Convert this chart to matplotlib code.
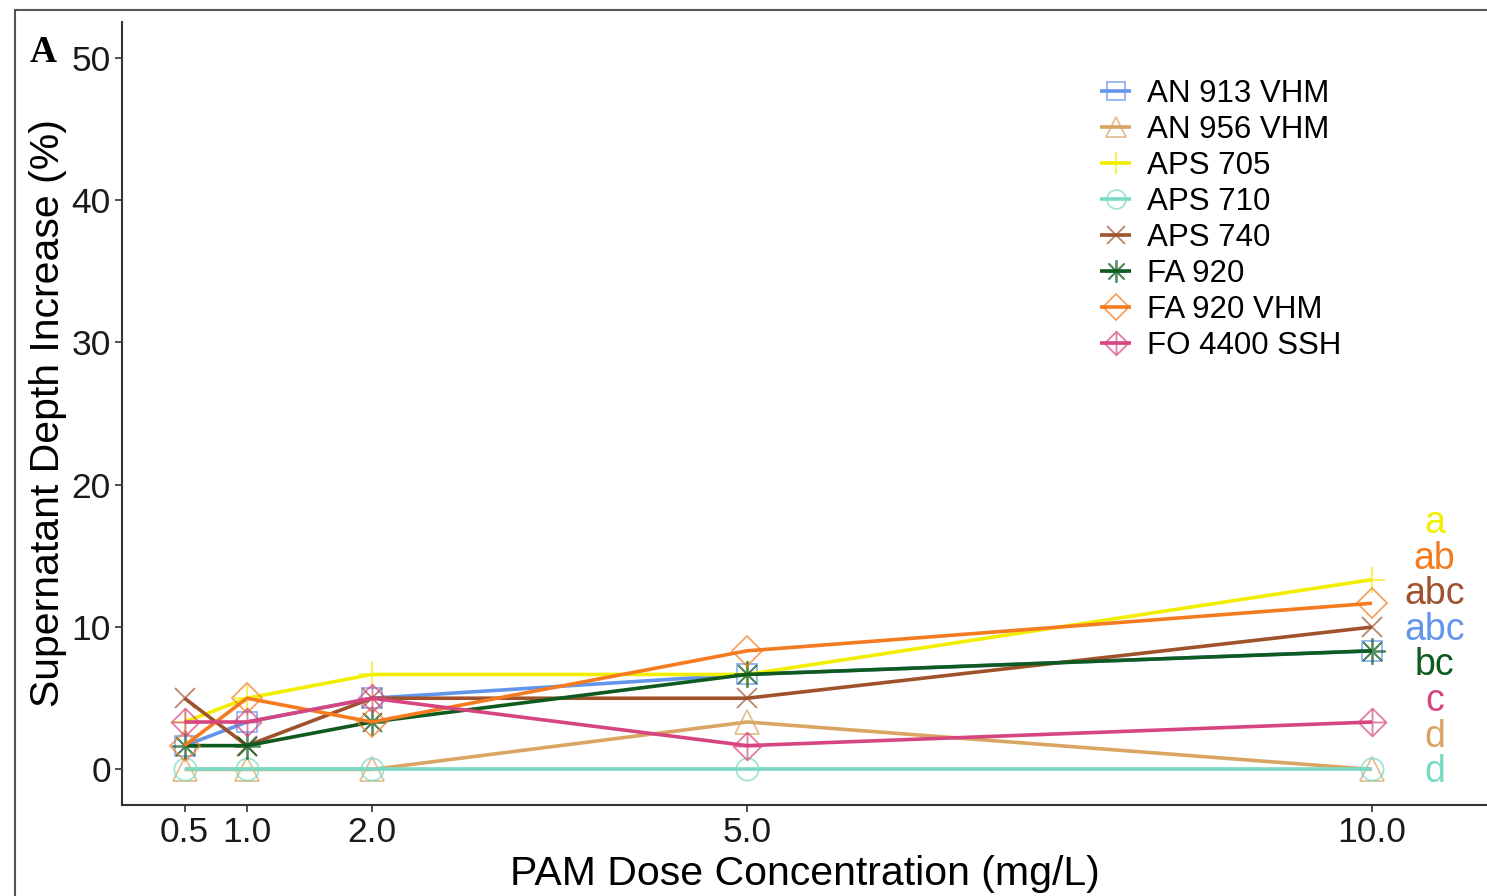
import numpy as np
import matplotlib.pyplot as plt
from matplotlib.colors import to_rgba
from matplotlib.path import Path
from matplotlib.patches import Rectangle

plt.rcParams['font.family'] = ['Liberation Sans', 'DejaVu Sans']

# ---- data ----
dose = [0.5, 1.0, 2.0, 5.0, 10.0]
series_names = ["AN 913 VHM", "AN 956 VHM", "APS 705", "APS 710",
                "APS 740", "FA 920", "FA 920 VHM", "FO 4400 SSH"]
an913 = [1.67, 3.33, 5.0, 6.67, 8.33]
an956 = [0.0, 0.0, 0.0, 3.33, 0.0]
aps705 = [3.33, 5.0, 6.67, 6.67, 13.33]
aps710 = [0.0, 0.0, 0.0, 0.0, 0.0]
aps740 = [5.0, 1.67, 5.0, 5.0, 10.0]
fa920 = [1.67, 1.67, 3.33, 6.67, 8.33]
fa920vhm = [1.67, 5.0, 3.33, 8.33, 11.67]
fo4400 = [3.33, 3.33, 5.0, 1.67, 3.33]
values = [an913, an956, aps705, aps710, aps740, fa920, fa920vhm, fo4400]

# significance letters, top to bottom
letters = ["a", "ab", "abc", "abc", "bc", "c", "d", "d"]
letter_series = ["APS 705", "FA 920 VHM", "APS 740", "AN 913 VHM",
                 "FA 920", "FO 4400 SSH", "AN 956 VHM", "APS 710"]
letter_y = [17.5, 15.0, 12.5, 10.0, 7.5, 5.0, 2.5, 0.0]

colors = {
    "AN 913 VHM": "#6495ED",
    "AN 956 VHM": "#D8A563",
    "APS 705": "#F2EE00",
    "APS 710": "#79D9C2",
    "APS 740": "#A0522D",
    "FA 920": "#0E5A1F",
    "FA 920 VHM": "#F47B20",
    "FO 4400 SSH": "#D6457F",
}

# diamond with a cross inside (ggplot shape 9)
diamond_plus = Path(
    [(0, 1), (1, 0), (0, -1), (-1, 0), (0, 1), (0, 1), (0, -1), (-1, 0), (1, 0)],
    [Path.MOVETO, Path.LINETO, Path.LINETO, Path.LINETO, Path.CLOSEPOLY,
     Path.MOVETO, Path.LINETO, Path.MOVETO, Path.LINETO])

markers = {
    "AN 913 VHM": ("s", 15),
    "AN 956 VHM": ("^", 17),
    "APS 705": ("+", 19),
    "APS 710": ("o", 16),
    "APS 740": ("x", 15),
    "FA 920": ((8, 2, 0), 19),
    "FA 920 VHM": ("D", 15),
    "FO 4400 SSH": (diamond_plus, 20),
}

W, H = 1487, 896
fig = plt.figure(figsize=(W / 100, H / 100), dpi=100)
ax = fig.add_axes([122 / W, 1 - 805 / H, 1 - 122 / W, (805 - 22) / H])

for name, vals in zip(series_names, values):
    c = colors[name]
    m, ms = markers[name]
    ax.plot(dose, vals, color=c, lw=2.6, marker=m, markersize=ms,
            mfc="none", mec=to_rgba(c, 0.7), mew=1.3, label=name,
            solid_capstyle="butt")

for lab, s, yv in zip(letters, letter_series, letter_y):
    ax.text(10.5, yv - 0.9, lab, color=colors[s], fontsize=27,
            ha="center", va="baseline", clip_on=False)

ax.set_xlim(0.0, (W - 121.5) / 125.05)
ax.set_ylim(-2.5, 52.5)
ax.set_xticks(dose)
ax.set_xticklabels([f"{d:.1f}" for d in dose])
ax.set_yticks([0, 10, 20, 30, 40, 50])
ax.tick_params(labelsize=25.5, length=5, width=1.2, color="#333333",
               labelcolor="#1a1a1a", pad=3)
for side in ["top", "right"]:
    ax.spines[side].set_visible(False)
for side in ["left", "bottom"]:
    ax.spines[side].set_linewidth(1.5)
    ax.spines[side].set_color("#333333")

ax.set_xlabel("PAM Dose Concentration (mg/L)", fontsize=29.5, labelpad=4)
ax.set_ylabel("Supernatant Depth Increase (%)", fontsize=29.5, labelpad=3)

leg = ax.legend(loc="upper left", bbox_to_anchor=(1100 / W, 1 - 79 / H),
                bbox_transform=fig.transFigure, frameon=False, fontsize=22.5,
                handlelength=1.0, handletextpad=0.5, labelspacing=0.19,
                borderpad=0, borderaxespad=0)
for h in leg.legend_handles:
    h.set_markersize(h.get_markersize() * 0.85)

fig.text(30 / W, 1 - 62 / H, "A", fontsize=27, fontweight="bold",
         family="Liberation Serif", ha="left", va="baseline")

# outer frame of the panel
fig.patches.append(Rectangle((15 / W, -0.1), 1.2, 1.1 - 10 / H,
                             transform=fig.transFigure, fill=False,
                             edgecolor="#555555", lw=1.5))

fig.savefig("out.png", dpi=100)
